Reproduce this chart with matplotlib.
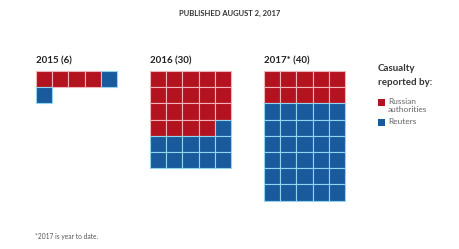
import matplotlib.pyplot as plt
from matplotlib.patches import Rectangle

plt.rcParams['font.family'] = ['Lato', 'DejaVu Sans']

years = ["2015 (6)", "2016 (30)", "2017* (40)"]
russian = [4, 19, 10]
reuters = [2, 11, 30]
series_labels = ["Russian\nauthorities", "Reuters"]

RED = '#b3121f'
BLUE = '#195a9c'
RED_EDGE = '#f2b3b9'
BLUE_EDGE = '#93d4ef'

fig = plt.figure(figsize=(4.6, 2.49), dpi=100)
ax = fig.add_axes([0, 0, 1, 1])
ax.set_xlim(0, 460)
ax.set_ylim(249, 0)
ax.axis('off')

ncols = 5
cell = 16.2
x0s = [36, 150, 264]
top = 71

for i, (lab, r, b) in enumerate(zip(years, russian, reuters)):
    x0 = x0s[i]
    ax.text(x0, top - 6, lab, fontsize=7, fontweight='bold', color='#222222', va='bottom', ha='left')
    for k in range(r + b):
        row, col = divmod(k, ncols)
        red = k < r
        ax.add_patch(Rectangle((x0 + col * cell, top + row * cell), cell, cell,
                               facecolor=RED if red else BLUE,
                               edgecolor=RED_EDGE if red else BLUE_EDGE, lw=0.8))

# title
ax.text(230, 13, "PUBLISHED AUGUST 2, 2017", fontsize=5.5, fontweight='bold', color='#333333',
        ha='center', va='center')

# legend
ax.text(378, 68, "Casualty", fontsize=7, fontweight='bold', color='#333333', va='center')
ax.text(378, 82, "reported by:", fontsize=7, fontweight='bold', color='#333333', va='center')
for (ly, col, txt) in [(102, RED, series_labels[0]), (122, BLUE, series_labels[1])]:
    ax.add_patch(Rectangle((378, ly - 3.5), 7, 7, facecolor=col, edgecolor='none'))
    ax.text(388, ly - 4.5, txt, fontsize=6, color='#666666', va='top', ha='left', linespacing=1.2)

ax.text(35, 236, "*2017 is year to date.", fontsize=4.8, color='#555555', va='center')

fig.savefig("out.png", dpi=100)
